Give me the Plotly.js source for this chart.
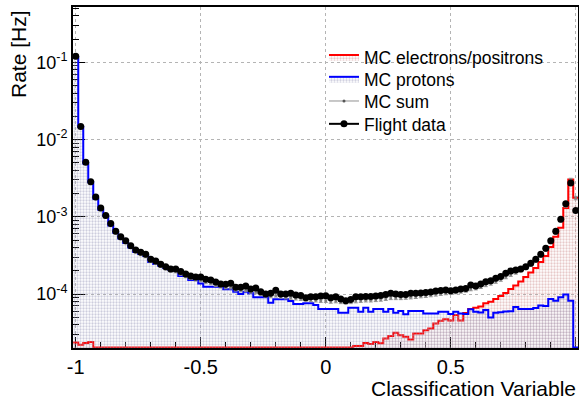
<!DOCTYPE html>
<html><head><meta charset="utf-8">
<script src="https://cdn.plot.ly/plotly-3.0.1.min.js"></script>
<style>html,body{margin:0;padding:0;background:#fff}#chart{width:579px;height:400px}</style>
</head><body><div id="chart"></div>
<script>
const binCenters = [-1,-0.98,-0.96,-0.94,-0.92,-0.9,-0.88,-0.86,-0.84,-0.82,
 -0.8,-0.78,-0.76,-0.74,-0.72,-0.7,-0.68,-0.66,-0.64,-0.62,
 -0.6,-0.58,-0.56,-0.54,-0.52,-0.5,-0.48,-0.46,-0.44,-0.42,
 -0.4,-0.38,-0.36,-0.34,-0.32,-0.3,-0.28,-0.26,-0.24,-0.22,
 -0.2,-0.18,-0.16,-0.14,-0.12,-0.1,-0.08,-0.06,-0.04,-0.02,
 0,0.02,0.04,0.06,0.08,0.1,0.12,0.14,0.16,0.18,
 0.2,0.22,0.24,0.26,0.28,0.3,0.32,0.34,0.36,0.38,
 0.4,0.42,0.44,0.46,0.48,0.5,0.52,0.54,0.56,0.58,
 0.6,0.62,0.64,0.66,0.68,0.7,0.72,0.74,0.76,0.78,
 0.8,0.82,0.84,0.86,0.88,0.9,0.92,0.94,0.96,0.98,
 1];
const binWidth = 0.02;

const flightData = [0.12,0.0148,0.0051,0.00285,0.0018,0.0013,0.00104,0.00082,0.00065,0.00055,
 0.00049,0.000423,0.000372,0.000347,0.000328,0.000282,0.000268,0.000243,0.000226,0.000211,
 0.000211,0.000195,0.000182,0.000171,0.000166,0.000166,0.000155,0.000152,0.000143,0.000135,
 0.000134,0.000138,0.000122,0.000122,0.000127,0.000116,0.00012,0.000107,0.0001,0.000102,
 0.000112,0.0001,0.0001,0.000102,0.000097,0.000096,0.0000895,0.0000923,0.0000923,0.0000942,
 0.000095,0.0000895,0.0000923,0.0000861,0.0000819,0.0000848,0.0000923,0.0000923,0.0000928,0.0000928,
 0.0000942,0.0000956,0.0000985,0.000102,0.0001,0.0000985,0.0000985,0.000102,0.000102,0.000103,
 0.000105,0.000106,0.000109,0.000111,0.000113,0.00011,0.000113,0.000116,0.000118,0.000131,
 0.000127,0.000135,0.000144,0.000149,0.00016,0.000168,0.000186,0.000199,0.000205,0.000211,
 0.000226,0.00025,0.000282,0.000328,0.000392,0.00049,0.00065,0.00093,0.00148,0.00274,
 0.00121];

const mcProtons = [0.115,0.0145,0.0049,0.0028,0.00171,0.00123,0.00102,0.00077,0.00062,0.000525,
 0.000459,0.0004,0.00035,0.00033,0.00031,0.00026,0.000245,0.000233,0.000217,0.000205,
 0.000205,0.000171,0.000171,0.000152,0.000152,0.000137,0.000124,0.000124,0.000124,0.000124,
 0.000115,0.000115,0.000107,0.0001,0.000107,0.000102,0.0000906,0.0000906,0.0000906,0.0000771,
 0.0000853,0.0000853,0.0000853,0.0000811,0.0000742,0.0000742,0.0000757,0.0000757,0.0000719,0.0000638,
 0.0000638,0.0000638,0.0000638,0.0000571,0.0000571,0.0000664,0.0000664,0.0000589,0.0000664,0.0000589,
 0.0000638,0.0000638,0.0000589,0.0000638,0.0000571,0.0000601,0.0000545,0.0000601,0.0000601,0.0000601,
 0.0000561,0.0000561,0.0000561,0.0000589,0.0000589,0.000055,0.0000589,0.0000561,0.000055,0.0000633,
 0.0000589,0.0000575,0.000062,0.0000495,0.0000571,0.000058,0.0000592,0.00006,0.000068,0.000064,
 0.000064,0.000064,0.000066,0.000071,0.00007,0.000086,0.000082,0.000091,0.0000985,0.000082,
 0];

const mcElectrons = [2.35e-5,2.2e-5,2.33e-5,2.4e-5,0,0,0,0,0,0,
 0,0,0,0,0,0,0,0,0,0,
 0,0,0,0,0,0,0,0,0,0,
 0,0,0,0,0,0,0,0,0,0,
 0,0,0,0,0,0,0,0,0,0,
 0,0,0,0,0,0,2.13e-5,2.13e-5,2.33e-5,2.25e-5,
 2.4e-5,2.3e-5,2.66e-5,2.85e-5,3.14e-5,2.93e-5,2.79e-5,2.58e-5,3.09e-5,3.09e-5,
 3.4e-5,3.58e-5,4.16e-5,4.5e-5,4.7e-5,4.53e-5,5.34e-5,4.53e-5,5.66e-5,6.38e-5,
 6.64e-5,6.9e-5,7.57e-5,7.94e-5,8.6e-5,9.4e-5,1.03e-4,1.16e-4,1.29e-4,1.45e-4,
 1.66e-4,1.9e-4,2.17e-4,2.6e-4,3.11e-4,4.07e-4,5.5e-4,7.2e-4,1.3e-3,3.03e-3,
 1.76e-3];

const mcSum = [0.117,0.0146,0.005,0.0028,0.00175,0.00126,0.00101,0.00079,0.00063,0.00053,
 0.00047,0.00041,0.00036,0.00033,0.00031,0.00027,0.000255,0.000232,0.000215,0.000202,
 0.000198,0.000184,0.000172,0.000162,0.000155,0.000152,0.000143,0.000139,0.000132,0.000126,
 0.000123,0.000122,0.000115,0.000112,0.000113,0.000108,0.000106,0.000101,0.000096,0.000094,
 0.000096,0.000093,0.000091,0.00009,0.000088,0.000087,0.000085,0.000084,0.000083,0.000082,
 0.000082,0.00008,0.000081,0.000079,0.000078,0.000079,0.000081,0.000082,0.000083,0.000083,
 0.000084,0.000085,0.000087,0.000089,0.000089,0.000089,0.00009,0.000091,0.000092,0.000094,
 0.000095,0.000097,0.000099,0.000101,0.000103,0.000104,0.000106,0.000108,0.000111,0.000116,
 0.000119,0.000124,0.000131,0.000137,0.000145,0.000154,0.000166,0.000178,0.00019,0.000203,
 0.000218,0.00024,0.00027,0.000315,0.000375,0.00047,0.00062,0.0009,0.0014,0.003,
 0.00175];

const xTickVals = [-1,-0.5,0,0.5,1];
const xTickText = ['-1','-0.5','0','0.5','1'];
const yTickVals = [1e-4,1e-3,1e-2,1e-1];
const yTickText = ['10<sup>-4</sup>','10<sup>-3</sup>','10<sup>-2</sup>','10<sup>-1</sup>'];

const yMin = 2e-5, yMax = 0.52;
const yFloor = 2.03e-5; // empty bins are drawn on the frame bottom, as ROOT does

function stepX(){
  const xs = binCenters.map(c => c - binWidth/2);
  xs.push(binCenters[binCenters.length-1] + binWidth/2);
  return xs;
}
function stepY(vals){
  const ys = vals.map(v => v > yFloor ? v : yFloor);
  ys.push(ys[ys.length-1]);
  return ys;
}

const traces = [
  {x: stepX(), y: stepY(mcElectrons), type:'scatter', mode:'lines', line:{shape:'hv', color:'#ff0000', width:2},
   fill:'tozeroy', fillcolor:'rgba(0,0,0,0)',
   fillpattern:{shape:'.', fgcolor:'#d09494', bgcolor:'rgba(255,255,255,0)', size:3, solidity:0.45, fillmode:'overlay'},
   name:'MC electrons/positrons', hoverinfo:'skip', legend:'legend'},
  {x: stepX(), y: stepY(mcProtons), type:'scatter', mode:'lines', line:{shape:'hv', color:'#0000ff', width:2},
   fill:'tozeroy', fillcolor:'rgba(0,0,0,0)',
   fillpattern:{shape:'.', fgcolor:'#9c9cbc', bgcolor:'rgba(255,255,255,0)', size:3, solidity:0.45, fillmode:'overlay'},
   name:'MC protons', hoverinfo:'skip', legend:'legend2'},
  {x: binCenters, y: mcSum, type:'scatter', mode:'markers', marker:{size:3, color:'#808080'},
   error_y:{type:'percent', value:5, color:'#909090', thickness:1, width:2},
   name:'MC sum', showlegend:false},
  {x: binCenters, y: flightData, type:'scatter', mode:'markers', marker:{size:7, color:'#000'},
   name:'Flight data', showlegend:false},
  {x:[null], y:[null], type:'scatter', mode:'lines+markers', fill:'toself', fillcolor:'rgba(255,255,255,0)',
   line:{color:'#909090', width:1}, marker:{size:3, color:'#555'}, name:'MC sum', legend:'legend3'},
  {x:[null], y:[null], type:'scatter', mode:'lines+markers', line:{color:'#000', width:2},
   marker:{size:7, color:'#000'}, name:'Flight data', legend:'legend4'}
];

const legendBase = {x:0.497, xanchor:'left', yanchor:'middle', bgcolor:'rgba(0,0,0,0)',
                    font:{size:17.5}, itemwidth:30, borderwidth:0};

const layout = {
  width:579, height:400,
  margin:{l:73, r:1, t:7, b:52, pad:0},
  paper_bgcolor:'#fff', plot_bgcolor:'#fff',
  font:{family:'"Liberation Sans", Arial, sans-serif', color:'#000'},
  showlegend:true,
  legend: Object.assign({}, legendBase, {y:0.853}),
  legend2: Object.assign({}, legendBase, {y:0.789}),
  legend3: Object.assign({}, legendBase, {y:0.724}),
  legend4: Object.assign({}, legendBase, {y:0.657}),
  xaxis:{range:[-1.011,1.009], tickmode:'array', tickvals:xTickVals, ticktext:xTickText,
         ticks:'inside', ticklen:11, tickwidth:1, tickcolor:'#000',
         showline:true, linewidth:2, linecolor:'#000', mirror:true,
         showgrid:true, gridcolor:'#b4b4b4', griddash:'3px,3px', gridwidth:1, zeroline:false,
         tickfont:{size:20}, layer:'below traces',
         minor:{tickmode:'linear', tick0:0, dtick:0.1, ticks:'inside', ticklen:6, tickcolor:'#000', showgrid:false}},
  yaxis:{type:'log', range:[Math.log10(yMin), Math.log10(yMax)], tickmode:'array', tickvals:yTickVals, ticktext:yTickText,
         ticks:'inside', ticklen:12, tickwidth:1, tickcolor:'#000',
         showline:true, linewidth:2, linecolor:'#000', mirror:true,
         showgrid:true, gridcolor:'#b4b4b4', griddash:'3px,3px', gridwidth:1, zeroline:false,
         tickfont:{size:18}, layer:'below traces',
         minor:{dtick:'D1', ticks:'inside', ticklen:6, tickcolor:'#000', showgrid:false}},
  annotations:[
    {text:'Rate [Hz]', xref:'paper', yref:'paper', x:-0.109, y:0.997, xanchor:'center', yanchor:'top',
     textangle:-90, showarrow:false, font:{size:21}},
    {text:'Classification Variable', xref:'paper', yref:'paper', x:1.0, y:-0.118, xanchor:'right', yanchor:'middle',
     showarrow:false, font:{size:21}}
  ]
};

Plotly.newPlot('chart', traces, layout, {displayModeBar:false, staticPlot:true});
</script>
</body></html>
